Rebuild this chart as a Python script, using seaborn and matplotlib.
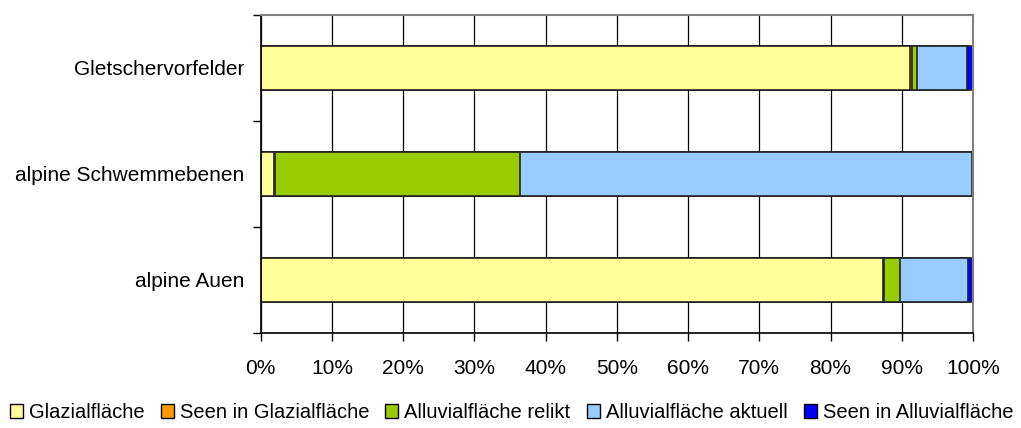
import numpy as np
import pandas as pd
import seaborn as sns
import matplotlib.pyplot as plt
from matplotlib.patches import Patch
from matplotlib.ticker import MultipleLocator, FixedLocator, PercentFormatter

# data (percent of area per landscape type)
categories = ["Gletschervorfelder", "alpine Schwemmebenen", "alpine Auen"]
series = ["Glazialfläche", "Seen in Glazialfläche", "Alluvialfläche relikt",
          "Alluvialfläche aktuell", "Seen in Alluvialfläche"]
glazial = [91.1, 1.9, 87.3]
seen_glazial = [0.3, 0.1, 0.2]
relikt = [0.8, 34.4, 2.3]
aktuell = [7.0, 63.4, 9.5]
seen_alluvial = [0.8, 0.2, 0.7]
colors = ["#FFFF99", "#FF9900", "#99CC00", "#99CCFF", "#0000FF"]

sns.set_style("white")
plt.rcParams['font.family'] = ['Liberation Sans', 'DejaVu Sans']
plt.rcParams['text.color'] = 'black'
plt.rcParams['xtick.labelcolor'] = 'black'
plt.rcParams['ytick.labelcolor'] = 'black'

df = pd.DataFrame({"cat": categories, series[0]: glazial, series[1]: seen_glazial,
                   series[2]: relikt, series[3]: aktuell, series[4]: seen_alluvial})
cum = df[series].cumsum(axis=1)

fig = plt.figure(figsize=(10.21, 4.28), dpi=100)
ax = fig.add_axes([0.2553, 0.222, 0.6977, 0.7435])
ax.set_axisbelow(True)
ax.xaxis.grid(True, color="black", linewidth=0.9)

# stacked bars: draw cumulative totals from the largest down
for i in range(len(series) - 1, -1, -1):
    sns.barplot(x=cum[series[i]], y=df["cat"], color=colors[i], orient="h",
                width=0.41, edgecolor="#222222", linewidth=1.2, saturation=1, ax=ax)

ax.set_xlim(0, 100)
ax.set_ylim(2.5, -0.5)
ax.xaxis.set_major_locator(MultipleLocator(10))
ax.xaxis.set_major_formatter(PercentFormatter(decimals=0))
ax.yaxis.set_minor_locator(FixedLocator([-0.5, 0.5, 1.5, 2.5]))
ax.tick_params(axis="y", which="major", length=0, labelsize=15, pad=11.5, labelcolor="black")
ax.tick_params(axis="y", which="minor", length=6, width=1, color="black", direction="out", left=True)
ax.tick_params(axis="x", length=6, width=1, color="black", direction="out", bottom=True,
               labelsize=15, pad=13, labelcolor="black")
ax.set_xlabel("")
ax.set_ylabel("")
for s in ["left", "bottom"]:
    ax.spines[s].set_color("black")
    ax.spines[s].set_linewidth(1.2)
for s in ["top", "right"]:
    ax.spines[s].set_color("#808080")
    ax.spines[s].set_linewidth(1.5)

handles = [Patch(facecolor=c, edgecolor="black", linewidth=1) for c in colors]
fig.legend(handles, series, loc="center", bbox_to_anchor=(0.501, 0.036), ncol=5,
           frameon=False, fontsize=14.5, handlelength=0.65, handleheight=0.65,
           handletextpad=0.3, columnspacing=0.8)

fig.savefig("out.png", dpi=100)
